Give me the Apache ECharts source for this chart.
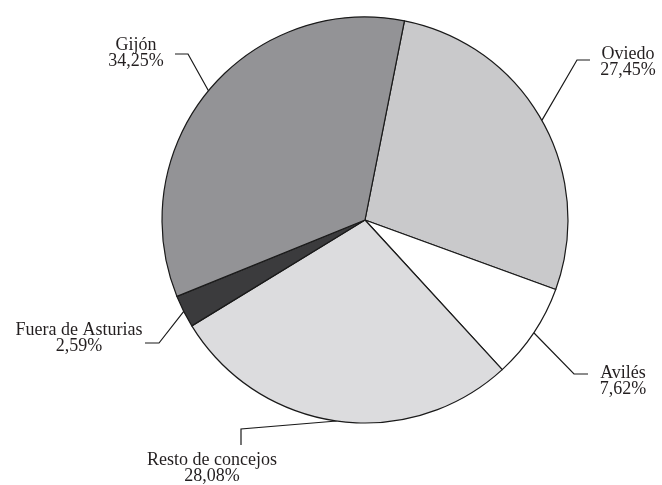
<!DOCTYPE html>
<html>
<head>
<meta charset="utf-8">
<script src="https://cdn.jsdelivr.net/npm/echarts@6/dist/echarts.min.js"></script>
<style>
  html, body { margin: 0; padding: 0; background: #ffffff; }
  #chart { width: 662px; height: 485px; }
</style>
</head>
<body>
<div id="chart"></div>
<script>
// datos del gráfico
const categories = ['Oviedo', 'Avilés', 'Resto de concejos', 'Fuera de Asturias', 'Gijón'];
const values = [27.45, 7.62, 28.08, 2.59, 34.25];
const colors = ['#c9c9cb', '#ffffff', '#dcdcde', '#3b3b3d', '#939396'];

// colocación de las etiquetas y del codo de cada línea guía (px)
const labelPlacement = [
    { label: [628, 62],  elbow: [577, 60],  end: [590, 60] },
    { label: [623, 381], elbow: [574, 374], end: [588, 374] },
    { label: [212, 468], elbow: [241, 429], end: [241, 445] },
    { label: [79, 338],  elbow: [159, 343], end: [145, 343] },
    { label: [136, 53],  elbow: [188, 54],  end: [175, 54] }
];

const CX = 365, CY = 220, R = 203, START = 78.8;

const chart = echarts.init(document.getElementById('chart'));

const pieData = categories.map((name, i) => ({
    name: name,
    value: values[i],
    itemStyle: { color: colors[i] }
}));

const total = values.reduce((a, b) => a + b, 0);

// punto del borde en el ángulo medio de cada porción
const edgePoint = (idx) => {
    let acc = 0;
    for (let i = 0; i < idx; i++) acc += values[i];
    const mid = START - (acc + values[idx] / 2) / total * 360;
    const rad = mid * Math.PI / 180;
    return [CX + R * Math.cos(rad), CY - R * Math.sin(rad)];
};

chart.setOption({
    backgroundColor: '#ffffff',
    animation: false,
    series: [{
        type: 'pie',
        center: [CX, CY],
        radius: R,
        startAngle: START,
        clockwise: true,
        avoidLabelOverlap: false,
        data: pieData,
        itemStyle: {
            borderColor: '#1a1a1a',
            borderWidth: 1.2
        },
        label: {
            show: true,
            position: 'outside',
            fontFamily: 'Liberation Serif',
            fontSize: 18,
            lineHeight: 16,
            color: '#231f20',
            formatter: (p) => p.name + '\n' + p.value.toFixed(2).replace('.', ',') + '%'
        },
        labelLine: {
            show: true,
            length: 30,
            length2: 14,
            lineStyle: { color: '#1a1a1a', width: 1.2 }
        },
        labelLayout: function (params) {
            const cfg = labelPlacement[params.dataIndex];
            return {
                x: cfg.label[0],
                y: cfg.label[1],
                align: 'center',
                verticalAlign: 'middle',
                labelLinePoints: [edgePoint(params.dataIndex), cfg.elbow, cfg.end]
            };
        },
        emphasis: { disabled: true }
    }]
});
</script>
</body>
</html>
